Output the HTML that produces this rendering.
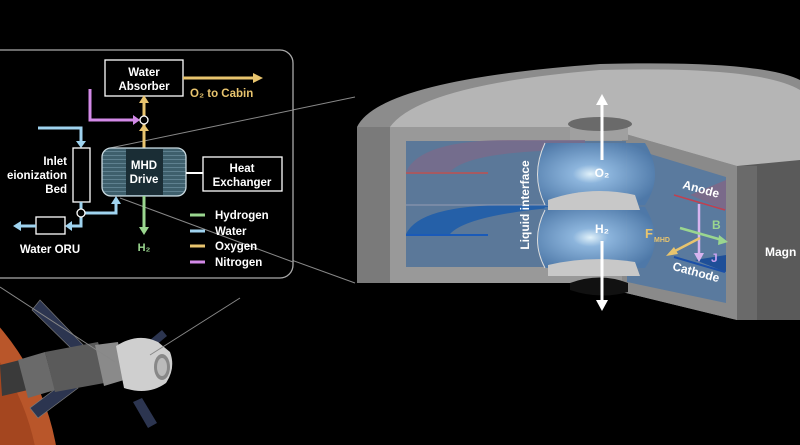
<!DOCTYPE html>
<html><head><style>
html,body{margin:0;padding:0;background:#000;width:800px;height:445px;overflow:hidden}
svg{display:block}
text{font-family:"Liberation Sans",sans-serif;font-weight:bold}
</style></head><body>
<svg width="800" height="445" viewBox="0 0 800 445" xmlns="http://www.w3.org/2000/svg" style="position:absolute;left:0;top:0">
<defs>
<radialGradient id="bulb" cx="0.45" cy="0.5" r="0.6"><stop offset="0" stop-color="#e8f8ff"/><stop offset="0.25" stop-color="#8fb8e0"/><stop offset="1" stop-color="#4d78a8"/></radialGradient>
<pattern id="stripe" width="4" height="4" patternUnits="userSpaceOnUse"><rect width="4" height="4" fill="#3e5f6c"/><rect y="3" width="4" height="1" fill="#5f8190"/></pattern>
</defs>
<!-- Mars -->
<circle cx="-190" cy="490" r="250" fill="#b9562a"/>
<circle cx="-200" cy="495" r="240" fill="#a4461f"/>
<!-- spacecraft -->
<g>
<polygon points="40,300 88,350 80,357 32,310" fill="#2c3550" stroke="#777" stroke-width="0.7"/>
<polygon points="70,378 30,408 38,418 78,388" fill="#2c3550" stroke="#777" stroke-width="0.7"/>
<polygon points="150,340 162,330 167,336 155,346" fill="#2c3550"/>
<polygon points="133,402 148,428 157,423 142,398" fill="#2c3550"/>
<polygon points="0,365 20,360 28,390 2,396" fill="#3a3a3a"/>
<polygon points="18,360 45,352 55,390 28,398" fill="#6a6a6a"/>
<polygon points="45,352 98,342 110,382 55,392" fill="#5a5a5a"/>
<polygon points="95,345 118,342 124,380 104,386" fill="#8a8a8a"/>
<path d="M116,346 Q138,332 158,342 L170,352 Q176,368 166,383 Q148,396 124,388z" fill="#cfcfcf"/>
<ellipse cx="162" cy="367" rx="8" ry="13" fill="#888"/>
<ellipse cx="162" cy="367" rx="5" ry="9" fill="#bbb"/>
</g>
<!-- zoom lines -->
<line x1="0" y1="287" x2="115" y2="362" stroke="#888" stroke-width="1"/>
<line x1="240" y1="298" x2="150" y2="355" stroke="#888" stroke-width="1"/>
<line x1="110" y1="148" x2="355" y2="97" stroke="#888" stroke-width="1"/>
<line x1="120" y1="198" x2="355" y2="283" stroke="#888" stroke-width="1"/>
<!-- panel -->
<rect x="-20" y="50" width="313" height="228" rx="13" fill="#000" stroke="#aaa" stroke-width="1.3"/>
<line x1="110" y1="148" x2="293" y2="110" stroke="#888" stroke-width="1"/>
<line x1="120" y1="198" x2="293" y2="262" stroke="#888" stroke-width="1"/>
<!-- water absorber -->
<rect x="105" y="60" width="78" height="36" fill="#000" stroke="#fff" stroke-width="1.3"/>
<text x="144" y="76" fill="#fff" font-size="11.5" text-anchor="middle">Water</text>
<text x="144" y="90" fill="#fff" font-size="11.5" text-anchor="middle">Absorber</text>
<line x1="183" y1="78" x2="255" y2="78" stroke="#e8c46e" stroke-width="3"/>
<path d="M253,73 L263,78 L253,83z" fill="#e8c46e"/>
<text x="190" y="97" fill="#e8c46e" font-size="11.5">O₂ to Cabin</text>
<line x1="144" y1="148" x2="144" y2="124" stroke="#e8c46e" stroke-width="3"/>
<line x1="144" y1="116" x2="144" y2="101" stroke="#e8c46e" stroke-width="3"/>
<path d="M139,103 L144,95 L149,103z" fill="#e8c46e"/>
<path d="M139,131 L144,124 L149,131z" fill="#e8c46e"/>
<polyline points="90,89 90,120 134,120" fill="none" stroke="#d38ae8" stroke-width="3"/>
<path d="M133,115 L140,120 L133,125z" fill="#d38ae8"/>
<circle cx="144" cy="120" r="4" fill="#000" stroke="#fff" stroke-width="1.3"/>
<polyline points="38,128 81,128 81,142" fill="none" stroke="#9fd3ef" stroke-width="3"/>
<path d="M76,141 L81,148 L86,141z" fill="#9fd3ef"/>
<rect x="73" y="148" width="17" height="54" fill="#000" stroke="#fff" stroke-width="1.3"/>
<text x="67" y="165" fill="#fff" font-size="11.5" text-anchor="end">Inlet</text>
<text x="67" y="179" fill="#fff" font-size="11.5" text-anchor="end">eionization</text>
<text x="67" y="193" fill="#fff" font-size="11.5" text-anchor="end">Bed</text>
<line x1="81" y1="202" x2="81" y2="209" stroke="#9fd3ef" stroke-width="3"/>
<polyline points="85,213 116,213 116,203" fill="none" stroke="#9fd3ef" stroke-width="3"/>
<path d="M111,204 L116,196 L121,204z" fill="#9fd3ef"/>
<polyline points="81,217 81,226 72,226" fill="none" stroke="#9fd3ef" stroke-width="3"/>
<path d="M72,221 L65,226 L72,231z" fill="#9fd3ef"/>
<circle cx="81" cy="213" r="4" fill="#000" stroke="#fff" stroke-width="1.3"/>
<rect x="36" y="217" width="29" height="17" fill="#000" stroke="#fff" stroke-width="1.3"/>
<line x1="36" y1="226" x2="20" y2="226" stroke="#9fd3ef" stroke-width="3"/>
<path d="M21,221 L13,226 L21,231z" fill="#9fd3ef"/>
<text x="50" y="253" fill="#fff" font-size="11.5" text-anchor="middle">Water ORU</text>
<rect x="102" y="148" width="84" height="48" rx="9" fill="url(#stripe)" stroke="#c8d8de" stroke-width="1.3"/>
<rect x="126" y="149" width="37" height="46" fill="#1a2d35"/>
<text x="144" y="169" fill="#fff" font-size="11.5" text-anchor="middle">MHD</text>
<text x="144" y="183" fill="#fff" font-size="11.5" text-anchor="middle">Drive</text>
<line x1="186" y1="173" x2="203" y2="173" stroke="#fff" stroke-width="2"/>
<rect x="203" y="157" width="79" height="34" fill="#000" stroke="#fff" stroke-width="1.3"/>
<text x="242" y="172" fill="#fff" font-size="11.5" text-anchor="middle">Heat</text>
<text x="242" y="186" fill="#fff" font-size="11.5" text-anchor="middle">Exchanger</text>
<line x1="144" y1="196" x2="144" y2="228" stroke="#9ad68f" stroke-width="3"/>
<path d="M139,227 L144,235 L149,227z" fill="#9ad68f"/>
<text x="144" y="251" fill="#9ad68f" font-size="11" text-anchor="middle">H₂</text>
<line x1="190" y1="215" x2="205" y2="215" stroke="#9ad68f" stroke-width="3"/>
<line x1="190" y1="231" x2="205" y2="231" stroke="#9fd3ef" stroke-width="3"/>
<line x1="190" y1="246" x2="205" y2="246" stroke="#e8c46e" stroke-width="3"/>
<line x1="190" y1="262" x2="205" y2="262" stroke="#d38ae8" stroke-width="3"/>
<text x="215" y="219" fill="#fff" font-size="11.5">Hydrogen</text>
<text x="215" y="235" fill="#fff" font-size="11.5">Water</text>
<text x="215" y="250" fill="#fff" font-size="11.5">Oxygen</text>
<text x="215" y="266" fill="#fff" font-size="11.5">Nitrogen</text>

<!-- cylinder -->
<path d="M357,127 Q380,80 600,64 Q760,60 800,80 L800,320 L737,320 L622,292 L622,283 L357,283z" fill="#8c8c8c"/>
<path d="M390,127 Q420,85 600,70 Q760,66 800,90 L800,168 L737,166 L622,133 L390,133z" fill="#b5b5b5"/>
<rect x="357" y="127" width="33" height="156" fill="#7a7a7a"/>
<rect x="390" y="127" width="232" height="156" fill="#999"/>
<polygon points="622,133 737,166 737,320 622,292" fill="#8a8a8a"/>
<polygon points="737,166 800,160 800,320 737,320" fill="#5a5a5a"/>
<rect x="737" y="166" width="20" height="154" fill="#6a6a6a"/>
<text x="765" y="256" fill="#fff" font-size="12" font-weight="normal">Magn</text>
<rect x="406" y="141" width="220" height="126" fill="#5b7899"/>
<path d="M406,172 Q420,140 510,140 L585,140 L585,150 Q470,150 450,172 L406,172z" fill="#7a6a8a" opacity="0.8"/>
<line x1="406" y1="173" x2="488" y2="173" stroke="#c05050" stroke-width="1.5"/>
<path d="M406,234 Q420,205 510,205 L590,205 Q470,212 450,234z" fill="#2560a8"/>
<line x1="406" y1="235" x2="488" y2="235" stroke="#1a5ab8" stroke-width="2"/>
<line x1="406" y1="205" x2="640" y2="205" stroke="#aab" stroke-width="0.8"/>
<polygon points="627,147 726,177 726,303 627,282" fill="#5a7a9e"/>
<polygon points="690,195 726,180 726,210" fill="#7a6a8a"/>
<polygon points="695,260 726,255 726,272" fill="#1e4f98"/>
<!-- hole top collar -->
<path d="M570,125 L570,140 L628,140 L628,125z" fill="#a0a0a0"/>
<ellipse cx="600" cy="124" rx="32" ry="7" fill="#6a6a6a"/>
<!-- bulbs -->
<path d="M545,143 Q530,175 545,205 L645,205 Q665,175 645,143z" fill="url(#bulb)" opacity="0.95"/>
<path d="M545,207 Q530,240 545,268 L645,268 Q665,240 645,207z" fill="url(#bulb)" opacity="0.95"/>
<path d="M548,200 Q590,185 635,195 L640,210 L548,210z" fill="#c8c8c8"/>
<path d="M548,265 Q590,255 635,262 L640,276 L548,276z" fill="#c8c8c8"/>
<path d="M545,143 Q530,175 545,205" fill="none" stroke="#ddd" stroke-width="1"/>
<path d="M545,210 Q530,240 545,268" fill="none" stroke="#ddd" stroke-width="1"/>
<path d="M570,283 Q600,272 628,283 L628,292 Q600,300 570,290z" fill="#111"/>
<line x1="602" y1="160" x2="602" y2="103" stroke="#fff" stroke-width="3"/>
<path d="M596,105 L602,94 L608,105z" fill="#fff"/>
<line x1="602" y1="241" x2="602" y2="302" stroke="#fff" stroke-width="3"/>
<path d="M596,300 L602,311 L608,300z" fill="#fff"/>
<text x="602" y="177" fill="#fff" font-size="12" text-anchor="middle">O₂</text>
<text x="602" y="233" fill="#fff" font-size="12" text-anchor="middle">H₂</text>
<text transform="translate(529,205) rotate(-90)" fill="#fff" font-size="12" text-anchor="middle" font-weight="normal">Liquid interface</text>
<line x1="674" y1="195" x2="725" y2="210" stroke="#c04050" stroke-width="1.5"/>
<text transform="translate(700,193) rotate(15)" fill="#fff" font-size="12" text-anchor="middle">Anode</text>
<line x1="674" y1="257" x2="725" y2="272" stroke="#1a4fa8" stroke-width="2"/>
<text transform="translate(695,276) rotate(15)" fill="#fff" font-size="12" text-anchor="middle">Cathode</text>
<line x1="699" y1="204" x2="699" y2="255" stroke="#d7b4ef" stroke-width="2.5"/>
<path d="M694,253 L699,262 L704,253z" fill="#d7b4ef"/>
<text x="711" y="262" fill="#c8a0f0" font-size="12">J</text>
<line x1="680" y1="228" x2="722" y2="240" stroke="#9ad68f" stroke-width="2.5"/>
<path d="M719,235 L728,242 L718,245z" fill="#9ad68f"/>
<text x="712" y="229" fill="#9ad68f" font-size="12">B</text>
<line x1="700" y1="238" x2="673" y2="252" stroke="#e8c46e" stroke-width="2.5"/>
<path d="M674,247 L666,256 L678,254z" fill="#e8c46e"/>
<text x="645" y="238" fill="#e8c46e" font-size="13">F</text>
<text x="654" y="242" fill="#e8c46e" font-size="7">MHD</text>
</svg>
</body></html>
